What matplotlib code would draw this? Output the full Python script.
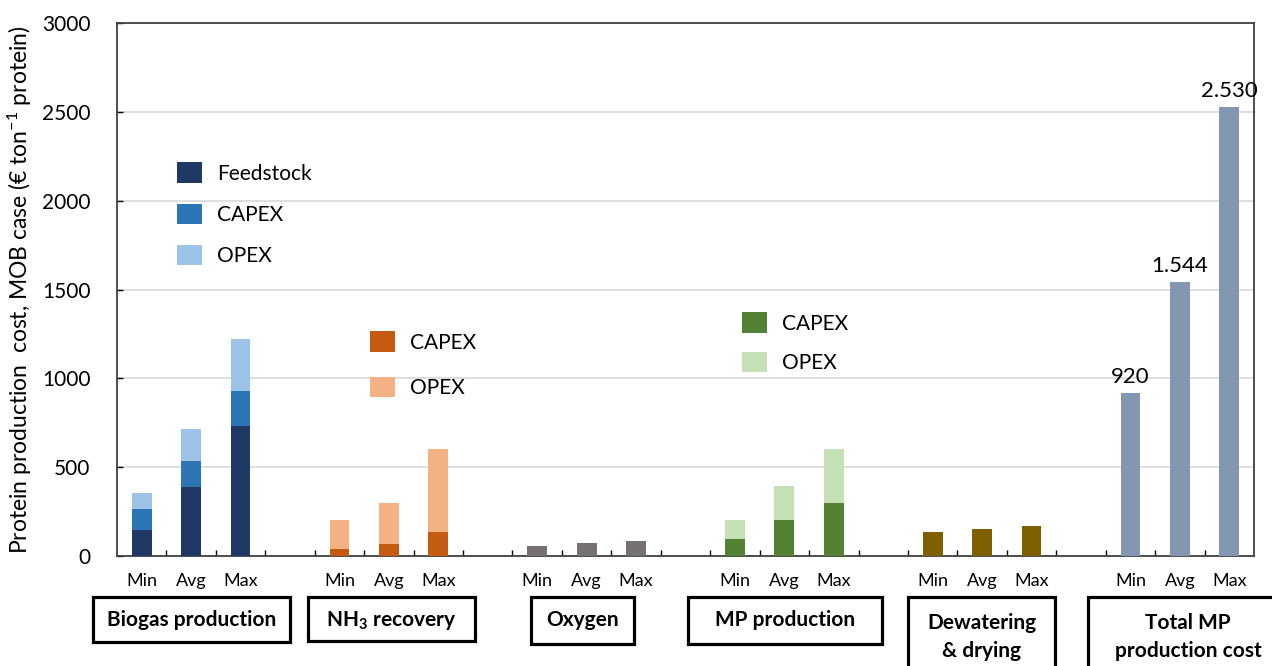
import matplotlib
matplotlib.use("Agg")
import matplotlib.pyplot as plt
from matplotlib.patches import Rectangle
import numpy as np

plt.rcParams['font.family'] = ['Lato', 'DejaVu Sans']
plt.rcParams['mathtext.fontset'] = 'custom'
plt.rcParams['mathtext.rm'] = 'Lato'
plt.rcParams['mathtext.bf'] = 'Lato:bold'
plt.rcParams['mathtext.it'] = 'Lato:italic'

# ---------------- data ----------------
levels = ["Min", "Avg", "Max"]
groups = ["Biogas production", "NH$_{\\mathbf{3}}$ recovery", "Oxygen",
          "MP production", "Dewatering\n& drying", "Total MP\nproduction cost"]

biogas_feedstock = [148, 387, 733]
biogas_capex = [117, 150, 195]
biogas_opex = [90, 178, 293]

nh3_capex = [38, 66, 137]
nh3_opex = [162, 234, 463]

oxygen = [56, 75, 85]

mp_capex = [94, 200, 298]
mp_opex = [106, 195, 302]

dewatering = [135, 152, 171]

total = [920, 1544, 2530]
total_labels = ["920", "1.544", "2.530"]

# ---------------- colours ----------------
c_feed = "#203864"
c_bcap = "#2E75B6"
c_bop = "#9DC3E6"
c_ncap = "#C55A11"
c_nop = "#F4B183"
c_oxy = "#767171"
c_mcap = "#548235"
c_mop = "#C5E0B4"
c_dew = "#7F6000"
c_tot = "#8497B0"

W, H = 1272, 666
fig = plt.figure(figsize=(W / 100, H / 100), dpi=100)
ax = fig.add_axes([117 / W, 1 - 556 / H, (1254 - 117) / W, (556 - 23) / H])

def pos(g):
    return np.arange(3) + 4 * g

bw = 0.4
ax.set_axisbelow(True)
# Biogas
b1 = ax.bar(pos(0), biogas_feedstock, bw, color=c_feed, zorder=3)
b2 = ax.bar(pos(0), biogas_capex, bw, bottom=biogas_feedstock, color=c_bcap, zorder=3)
b3 = ax.bar(pos(0), biogas_opex, bw, bottom=np.add(biogas_feedstock, biogas_capex), color=c_bop, zorder=3)
# NH3
n1 = ax.bar(pos(1), nh3_capex, bw, color=c_ncap, zorder=3)
n2 = ax.bar(pos(1), nh3_opex, bw, bottom=nh3_capex, color=c_nop, zorder=3)
# Oxygen
ax.bar(pos(2), oxygen, bw, color=c_oxy, zorder=3)
# MP
m1 = ax.bar(pos(3), mp_capex, bw, color=c_mcap, zorder=3)
m2 = ax.bar(pos(3), mp_opex, bw, bottom=mp_capex, color=c_mop, zorder=3)
# Dewatering
ax.bar(pos(4), dewatering, bw, color=c_dew, zorder=3)
# Total
tb = ax.bar(pos(5), total, bw, color=c_tot, zorder=3)
for x, v, lab in zip(pos(5), total, total_labels):
    ax.annotate(lab, (x, v), xytext=(0, 4), textcoords="offset points",
                ha="center", va="bottom", fontsize=16)

ax.set_xlim(-0.5, 22.5)
ax.set_ylim(0, 3000)
ax.set_yticks(np.arange(0, 3001, 500))
ax.yaxis.grid(True, color="#D9D9D9", linewidth=1.2, zorder=0)
ax.tick_params(axis="y", direction="in", length=4, labelsize=15, pad=19, width=1)

ax.set_xticks(np.arange(0.5, 22.5, 1.0))
ax.set_xticklabels([])
ax.tick_params(axis="x", which="major", direction="in", length=4, width=1)
minor_pos = np.concatenate([pos(g) for g in range(6)])
ax.set_xticks(minor_pos, minor=True)
ax.set_xticklabels(levels * 6, minor=True)
ax.tick_params(axis="x", which="minor", length=0, labelsize=13, pad=12)

for s in ax.spines.values():
    s.set_color("#404040")
    s.set_linewidth(1.3)

ax.set_ylabel("Protein production  cost, MOB case (€ ton$^{-1}$ protein)", fontsize=16.5, labelpad=6)

# legends
leg_kw = dict(frameon=False, fontsize=15, borderpad=0, handlelength=1.2,
              handleheight=1.15, handletextpad=0.7,
              loc="upper left", bbox_transform=fig.transFigure)
l1 = ax.legend([b1, b2, b3], ["Feedstock", "CAPEX", "OPEX"],
               bbox_to_anchor=(167 / W, 1 - 152 / H), labelspacing=0.95, **leg_kw)
ax.add_artist(l1)
l2 = ax.legend([n1, n2], ["CAPEX", "OPEX"],
               bbox_to_anchor=(360 / W, 1 - 321 / H), labelspacing=1.15, **leg_kw)
ax.add_artist(l2)
l3 = ax.legend([m1, m2], ["CAPEX", "OPEX"],
               bbox_to_anchor=(732 / W, 1 - 302 / H), labelspacing=0.85, **leg_kw)

# group boxes below the axis
boxes = [(93, 290, 642), (308, 475, 641), (531, 634, 644),
         (688, 882, 644), (908, 1055, 700), (1088, 1300, 700)]
for (x0, x1, y1), name in zip(boxes, groups):
    y0 = 597
    fig.patches.append(Rectangle((x0 / W, 1 - y1 / H), (x1 - x0) / W, (y1 - y0) / H,
                                 transform=fig.transFigure, fill=False,
                                 edgecolor="black", linewidth=2.3, clip_on=False))
    xc = (x0 + min(x1, 1272 + 16)) / 2
    if "\n" in name:
        fig.text(xc / W, 1 - 637 / H, name, ha="center", va="center",
                 fontsize=15, fontweight="bold", linespacing=1.55)
    else:
        fig.text(xc / W, 1 - 620 / H, name, ha="center", va="center",
                 fontsize=15, fontweight="bold")

fig.savefig("out.png", dpi=100)
